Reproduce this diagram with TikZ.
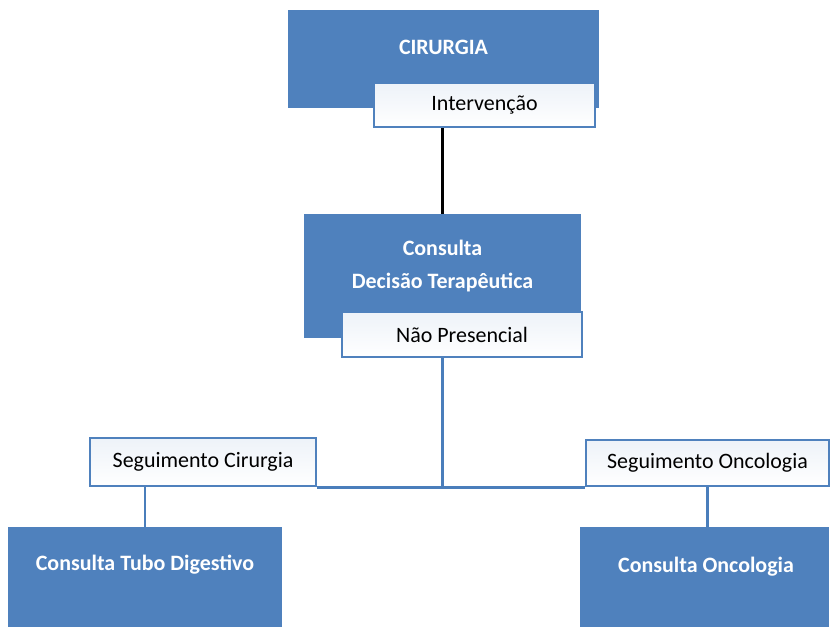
\documentclass[tikz,border=0pt]{standalone}
\usepackage{fontspec}
\setmainfont{Carlito}
\usepackage{tikz}

\definecolor{boxblue}{HTML}{4F81BD}
\definecolor{lineblue}{HTML}{4A7EBB}

\tikzset{
	bigbox/.style={rectangle, fill=boxblue, inner sep=0pt},
	boxtext/.style={white, font=\fontsize{12.5}{15}\selectfont\bfseries, align=center},
	tagbox/.style={rectangle, draw=boxblue, line width=1.2pt, top color=boxblue!10,
		bottom color=white, inner sep=0pt, font=\fontsize{12.5}{15}\selectfont},
	link/.style={line width=1.7pt, lineblue}
}

\begin{document}
\begin{tikzpicture}[x=0.02cm, y=-0.02cm]
		\useasboundingbox (0, 0) rectangle (830, 626);

		\node [bigbox, minimum width=311*0.02cm, minimum height=98*0.02cm] (cirurgia) at (443.5, 59) {};
		\node [boxtext] (cirurgiatxt) at (443.5, 47) {CIRURGIA};
		\node [tagbox, minimum width=221*0.02cm, minimum height=44*0.02cm] (interv) at (484.5, 105) {Intervenção};

		\node [bigbox, minimum width=277*0.02cm, minimum height=124*0.02cm] (consulta) at (442.5, 276) {};
		\node [boxtext] (consultatxt) at (442.5, 266) {Consulta\\[3.5pt]Decisão Terapêutica};
		\node [tagbox, minimum width=240*0.02cm, minimum height=45*0.02cm] (naopres) at (462, 334.5) {Não Presencial};

		\node [tagbox, minimum width=226*0.02cm, minimum height=48*0.02cm] (segcir) at (203, 462) {Seguimento Cirurgia};
		\node [tagbox, minimum width=243*0.02cm, minimum height=46*0.02cm] (segonc) at (707.5, 463) {Seguimento Oncologia};

		\node [bigbox, minimum width=274*0.02cm, minimum height=114*0.02cm] (tubo) at (145, 584) {};
		\node [boxtext] (tubotxt) at (145, 565) {Consulta Tubo Digestivo};
		\node [bigbox, minimum width=249*0.02cm, minimum height=114*0.02cm] (onco) at (704.5, 584) {};
		\node [boxtext] (oncotxt) at (706, 567) {Consulta Oncologia};

		\draw [line width=1.8pt, black] (consulta.north |- interv.south) -- (consulta.north);

		\draw [link] (consulta.south |- naopres.south) -- (consulta.south |- segcir.south);
		\draw [link] (segcir.south east) -- (segonc.south west);
		\draw [link] (tubo.north |- segcir.south) -- (tubo.north);
		\draw [link] (segonc.south) -- (segonc.south |- onco.north);

	\end{tikzpicture}
\end{document}
